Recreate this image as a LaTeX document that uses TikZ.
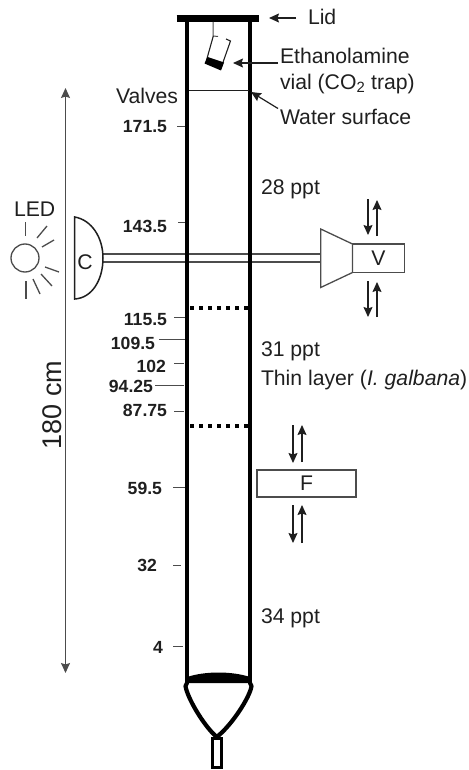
\documentclass[tikz,border=0pt]{standalone}
\usepackage{fontspec}
\setmainfont{Liberation Sans}
\usetikzlibrary{arrows.meta}
\definecolor{ink}{gray}{0.12}
\definecolor{rule}{gray}{0.3}
\tikzset{
  x=1pt,y=-1pt,
  every node/.style={inner sep=0pt,outer sep=0pt,text=ink},
  lab/.style={anchor=base west,font=\fontsize{21.2}{24}\selectfont},
  depth/.style={anchor=base east,font=\fontsize{17.6}{20}\selectfont\bfseries},
  wall/.style={line width=4.8pt,black},
  tick/.style={line width=1pt,rule},
  thin/.style={line width=1.2pt,rule},
  ptr/.style={line width=1.2pt,ink,-{Stealth[length=10pt,width=9pt,inset=1.5pt]}},
  flow/.style={line width=1.1pt,ink,-{Stealth[length=10pt,width=9pt,inset=1.5pt]}},
  dome/.style={line width=1.5pt,ink},
  boxline/.style={line width=1.3pt,rule}
}
\begin{document}
\begin{tikzpicture}
\useasboundingbox (0,0) rectangle (468,770);
% tube
\coordinate (tl) at (187,18);
\coordinate (tr) at (250,18);
\coordinate (bl) at (187,683);
\coordinate (br) at (250,683);
\draw[wall] (tl) -- (bl);
\draw[wall] (tr) -- (br);
\coordinate (lidL) at (176.5,18.5);
\coordinate (lidR) at (259,18.5);
\draw[line width=7pt,black] (lidL) -- (lidR);
% bottom lens and funnel
\fill[black] (187,677) .. controls (205,671) and (232,671) .. (250,677) -- (250,683) -- (187,683) -- cycle;
\coordinate (funnelTip) at (216.7,737);
\draw[line width=4.2pt,black,line join=round,line cap=round] (bl) -- (185.5,686) .. controls (187,697) and (203,725) .. (funnelTip)
  .. controls (232,725) and (250,697) .. (251.5,686) -- (br);
\draw[black,line width=3pt] (212,738) rectangle (221.5,767);
% water surface
\draw[line width=1.4pt,ink] (189,90.5) -- (248.5,90.5);
% vial
\coordinate (hookTop) at (213,22);
\coordinate (hookBot) at (213,36);
\draw[line width=1pt,rule] (hookTop) -- (hookBot) -- (218,36.5);
\draw[line width=1.1pt,ink] (213.3,36) -- (206,62);
\draw[line width=1.1pt,ink] (226,39) -- (230.5,41) -- (221,68);
\fill[black] (207.5,57) -- (224,62.5) -- (221,70.5) -- (204.5,63.5) -- cycle;
% top labels
\node[lab] (lid) at (308,25) {Lid};
\node[lab] (etha) at (280,63.5) {Ethanolamine};
\node[lab] (vial) at (280,89.5) {vial (CO\textsubscript{2} trap)};
\node[lab] (water) at (280,125) {Water surface};
\node[lab] (valves) at (116,104) {Valves};
\coordinate (lidTip) at (269,18);
\coordinate (lidTail) at (296,18);
\coordinate (ethaTip) at (233,63);
\coordinate (ethaTail) at (278,63);
\coordinate (waterTip) at (251,92);
\coordinate (waterTail) at (278,108.5);
\draw[ptr] (lidTail) -- (lidTip);
\draw[ptr] (ethaTail) -- (ethaTip);
\draw[ptr] (waterTail) -- (waterTip);
% salinity labels
\node[lab] (s28) at (261,194) {28 ppt};
\node[lab] (s31) at (261,356) {31 ppt};
\node[lab] (thin) at (261,385) {Thin layer (\textit{I. galbana})};
\node[lab] (s34) at (261,623) {34 ppt};
% layer boundaries
\draw[line width=3.6pt,black,dash pattern=on 4pt off 5pt] (190,307.8) -- (248,307.8);
\draw[line width=3.6pt,black,dash pattern=on 4pt off 5pt] (190,425.8) -- (248,425.8);
% depth labels and ticks
\foreach \name/\txt/\rx/\by/\xa/\xb/\ty in {
  a/171.5/167/133/177/185/127,
  b/143.5/167/232/178/185/222,
  c/115.5/167/325/174/185/317,
  d/109.5/155/349/159/185/339.5,
  e/102/166/372/174/184/363,
  f/94.25/153/392/155/184/385,
  g/87.75/167/416/174/184/411,
  h/59.5/162/494/173/185/487,
  i/32/157/571/173/181/565,
  j/4/163/653/173/183/646}{
  \node[depth] (lab\name) at (\rx,\by) {\txt};
  \coordinate (t\name a) at (\xa,\ty);
  \coordinate (t\name b) at (\xb,\ty);
  \draw[tick] (t\name a) -- (t\name b);
}
% 180 cm
\coordinate (rulerTop) at (65.5,88);
\coordinate (rulerBot) at (65.5,673);
\draw[line width=1.3pt,rule,{Stealth[length=10pt,width=9pt,inset=1.5pt]}-{Stealth[length=10pt,width=9pt,inset=1.5pt]}] (rulerTop) -- (rulerBot);
\node[rotate=90,font=\fontsize{27}{30}\selectfont] (cm) at (52,405) {180 cm};
% LED
\node[lab] (led) at (14,216) {LED};
\node[circle,draw=rule,line width=1.3pt,minimum size=28pt,fill=white] (sun) at (25,258) {};
\foreach \xa/\ya/\xb/\yb in {25.7/222/25.7/236, 37/238/47/226, 42/247/54/240, 45/267/59/272, 41/274/52/286, 33/279/40/294, 26/281/26/299}
  \draw[line width=1.3pt,rule] (\xa,\ya) -- (\xb,\yb);
% C dome
\coordinate (domeT) at (74.7,217);
\coordinate (domeB) at (74.7,299);
\coordinate (pipeLa) at (102.5,254);
\coordinate (pipeLb) at (102.5,262);
\coordinate (pipeRa) at (320.7,254);
\coordinate (pipeRb) at (320.7,262);
\draw[thin] (pipeLa) -- (pipeRa);
\draw[thin] (pipeLb) -- (pipeRb);
\draw[wall] (187,240) -- (187,275);
\draw[wall] (250,240) -- (250,275);
\draw[dome,fill=white] (domeT) .. controls (92,220) and (103,238) .. (103,258) .. controls (103,280) and (92,298) .. (domeB) -- cycle;
\node[font=\fontsize{21.2}{24}\selectfont] (c) at (85,262) {C};
% V
\draw[boxline] (320.7,229) -- (352.5,244) -- (352.5,272.5) -- (320.7,287.5) -- cycle;
\node[draw=rule,line width=1.3pt,minimum width=52pt,minimum height=28.5pt,font=\fontsize{21.2}{24}\selectfont] (v) at (378.5,258.2) {V};
\foreach \n/\x/\ya/\yb in {va/368/199/235, vb/377/236/200, vc/368/281/317, vd/377/317/282}{
  \coordinate (\n s) at (\x,\ya);
  \coordinate (\n e) at (\x,\yb);
  \draw[flow] (\n s) -- (\n e);
}
% F
\node[draw=rule,line width=1.3pt,minimum width=99pt,minimum height=27pt,font=\fontsize{21.2}{24}\selectfont] (fbox) at (306.5,483.5) {F};
\foreach \n/\x/\ya/\yb in {fa/293/425/463, fb/302/462/425, fc/293/505/543, fd/302/543/505}{
  \coordinate (\n s) at (\x,\ya);
  \coordinate (\n e) at (\x,\yb);
  \draw[flow] (\n s) -- (\n e);
}
\end{tikzpicture}
\end{document}
